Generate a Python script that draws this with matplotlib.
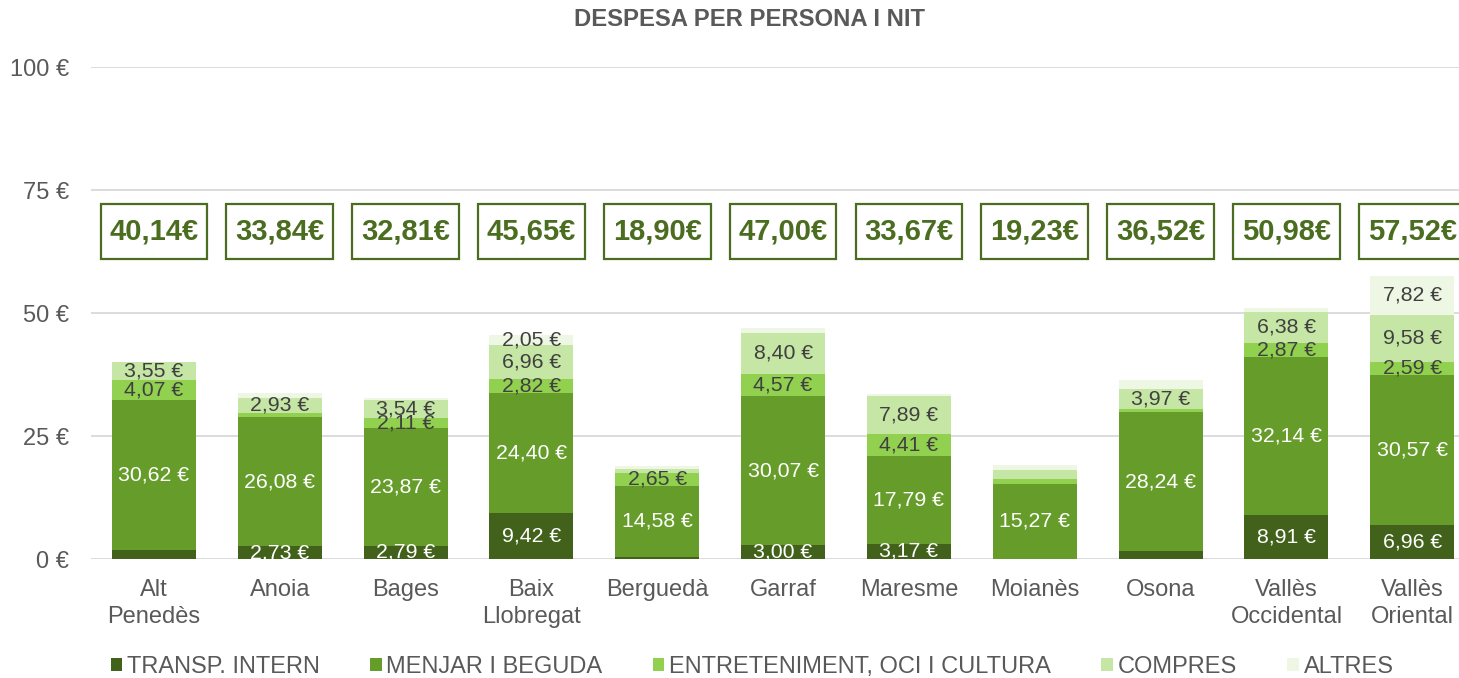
import matplotlib
matplotlib.use("Agg")
import matplotlib.pyplot as plt
from matplotlib.patches import Patch, Rectangle
import numpy as np

plt.rcParams['font.family'] = ['Liberation Sans', 'DejaVu Sans']

# Data: spending per person and night by county (EUR)
comarques = ["Alt\nPenedès", "Anoia", "Bages", "Baix\nLlobregat", "Berguedà", "Garraf",
             "Maresme", "Moianès", "Osona", "Vallès\nOccidental", "Vallès\nOriental"]
series_names = ["TRANSP. INTERN", "MENJAR I BEGUDA", "ENTRETENIMENT, OCI I CULTURA",
                "COMPRES", "ALTRES"]

transp_intern = [1.80, 2.73, 2.79, 9.42, 0.40, 3.00, 3.17, 0.10, 1.65, 8.91, 6.96]
menjar_beguda = [30.62, 26.08, 23.87, 24.40, 14.58, 30.07, 17.79, 15.27, 28.24, 32.14, 30.57]
entreteniment = [4.07, 1.00, 2.11, 2.82, 2.65, 4.57, 4.41, 0.95, 0.70, 2.87, 2.59]
compres = [3.55, 2.93, 3.54, 6.96, 0.80, 8.40, 7.89, 1.85, 3.97, 6.38, 9.58]
altres = [0.10, 1.10, 0.50, 2.05, 0.47, 0.96, 0.41, 1.06, 1.96, 0.68, 7.82]

y_ticks = [0, 25, 50, 75, 100]

series = [transp_intern, menjar_beguda, entreteniment, compres, altres]
colors = ["#42621B", "#669D2A", "#92D050", "#C5E6A4", "#EEF6E4"]
label_colors = ["white", "white", "#404040", "#404040", "#404040"]
min_label_value = 2.0

grey = "#595959"
box_green = "#4A6D1F"

W, H = 1459, 678
fig = plt.figure(figsize=(W / 100, H / 100), dpi=100)
x0, x1 = 91, 1475.2
y0, y1 = 559.3, 67
ax = fig.add_axes([x0 / W, (H - y0) / H, (x1 - x0) / W, (y0 - y1) / H])

x = np.arange(len(comarques))
bottom = np.zeros(len(comarques))
for vals, col, lcol in zip(series, colors, label_colors):
    vals = np.array(vals)
    ax.bar(x, vals, width=0.667, bottom=bottom, color=col, zorder=3)
    for xi, b, v in zip(x, bottom, vals):
        if v >= min_label_value:
            ax.text(xi, b + v / 2, f"{v:.2f} €".replace(".", ","), ha="center", va="center",
                    fontsize=15.3, color=lcol, zorder=5, clip_on=False)
    bottom = bottom + vals

# Boxed totals above each bar
total_y = 66.6
box_w, box_h = 0.848, 11.2
for xi, tot in zip(x, bottom):
    ax.add_patch(Rectangle((xi - box_w / 2, total_y - box_h / 2), box_w, box_h,
                           fc="white", ec=box_green, lw=1.6, zorder=6, clip_on=False))
    ax.text(xi, total_y, f"{tot:.2f}€".replace(".", ","), ha="center", va="center",
            fontsize=21, fontweight="bold", color=box_green, zorder=7, clip_on=False)

ax.set_xlim(-0.5, len(comarques) - 0.5)
ax.set_ylim(0, 100)
ax.set_yticks(y_ticks)
ax.set_yticklabels([f"{t} €" for t in y_ticks])
ax.set_xticks(x)
ax.set_xticklabels(comarques, linespacing=1.3)
ax.tick_params(axis="both", length=0, colors=grey, labelsize=17)
ax.tick_params(axis="y", pad=16)
ax.tick_params(axis="x", pad=14)
ax.yaxis.grid(True, color="#D9D9D9", lw=1.3, zorder=0)
for s in ax.spines.values():
    s.set_visible(False)

fig.text(749 / W, 1 - 20 / H, "DESPESA PER PERSONA I NIT", ha="center", va="center",
         fontsize=17.2, fontweight="bold", color=grey)

handles = [Patch(facecolor=c, edgecolor="none") for c in colors]
fig.legend(handles, series_names, loc="center", bbox_to_anchor=(752 / W, 1 - 667 / H),
           ncol=5, frameon=False, fontsize=17, handlelength=0.5, handleheight=0.5,
           handletextpad=0.2, columnspacing=2.12, labelcolor=grey)

fig.savefig("out.png", dpi=100)
